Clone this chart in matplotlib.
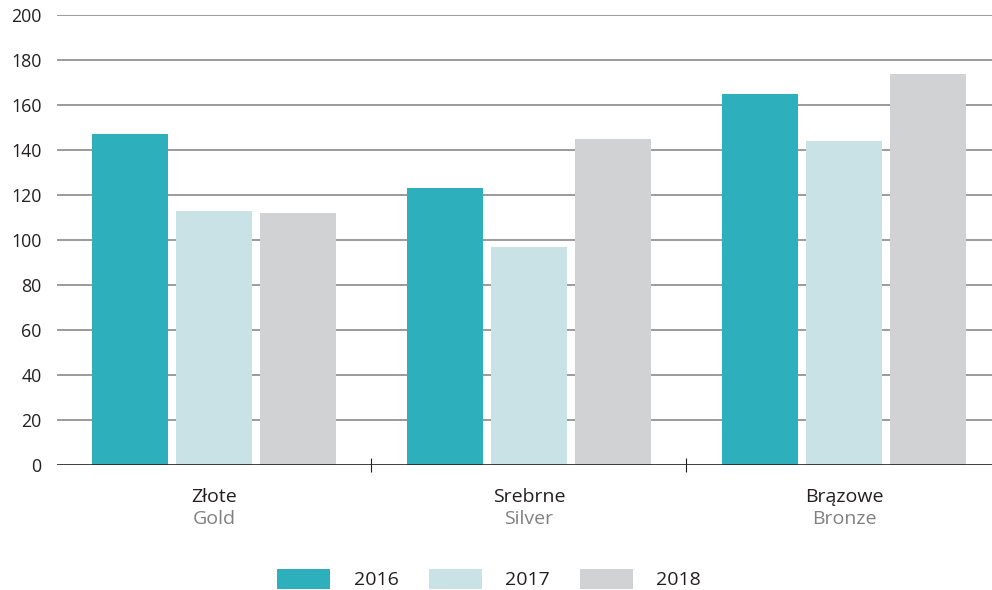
import matplotlib
matplotlib.use("Agg")
import matplotlib.pyplot as plt
from matplotlib.patches import Patch
import numpy as np

categories_pl = ["Złote", "Srebrne", "Brązowe"]
categories_en = ["Gold", "Silver", "Bronze"]
years = ["2016", "2017", "2018"]
values_2016 = [147, 123, 165]
values_2017 = [113, 97, 144]
values_2018 = [112, 145, 174]
yticks = [0, 20, 40, 60, 80, 100, 120, 140, 160, 180, 200]

colors = ["#2DB0BB", "#C8E2E6", "#D1D2D4"]
series = [values_2016, values_2017, values_2018]

plt.rcParams['font.family'] = ['Open Sans', 'DejaVu Sans']

fig = plt.figure(figsize=(9.92, 5.90), dpi=100)
ax = fig.add_axes([57/992, 125/590, 1 - 57/992, 450/590])

x = np.arange(len(categories_pl))
width = 0.241
offset = 0.267
for i, (vals, c) in enumerate(zip(series, colors)):
    ax.bar(x + (i - 1) * offset, vals, width=width, color=c, zorder=3, label=years[i])

ax.set_ylim(0, 200)
ax.set_xlim(-0.498, 2.47)
ax.set_yticks(yticks)
ax.set_yticklabels([str(t) for t in yticks], fontsize=12.8, color="#231F20")
ax.tick_params(axis='y', length=0, pad=11)
for t in yticks[1:]:
    ax.axhline(t, color="#8A8A8A", lw=1.2, zorder=1)
ax.axhline(0, color="#231F20", lw=1.2, zorder=4)

for s in ax.spines.values():
    s.set_visible(False)

ax.set_xticks([0.5, 1.5])
ax.set_xticklabels([])
ax.tick_params(axis='x', direction='inout', length=10, width=0.8, color="#231F20")

trans = ax.get_xaxis_transform()
for i in range(len(categories_pl)):
    ax.text(x[i], -0.071, categories_pl[i], transform=trans, ha='center', va='center',
            fontsize=14, color="#231F20")
    ax.text(x[i], -0.121, categories_en[i], transform=trans, ha='center', va='center',
            fontsize=14, color="#808080")

handles = [Patch(facecolor=c, edgecolor='none') for c in colors]
fig.legend(handles, years, loc='center', bbox_to_anchor=(489/992, 11/590), ncol=3,
           frameon=False, fontsize=14, handlelength=2.73, handleheight=1.19,
           handletextpad=1.19, columnspacing=1.55, labelcolor="#231F20")

fig.savefig("out.png", dpi=100)
